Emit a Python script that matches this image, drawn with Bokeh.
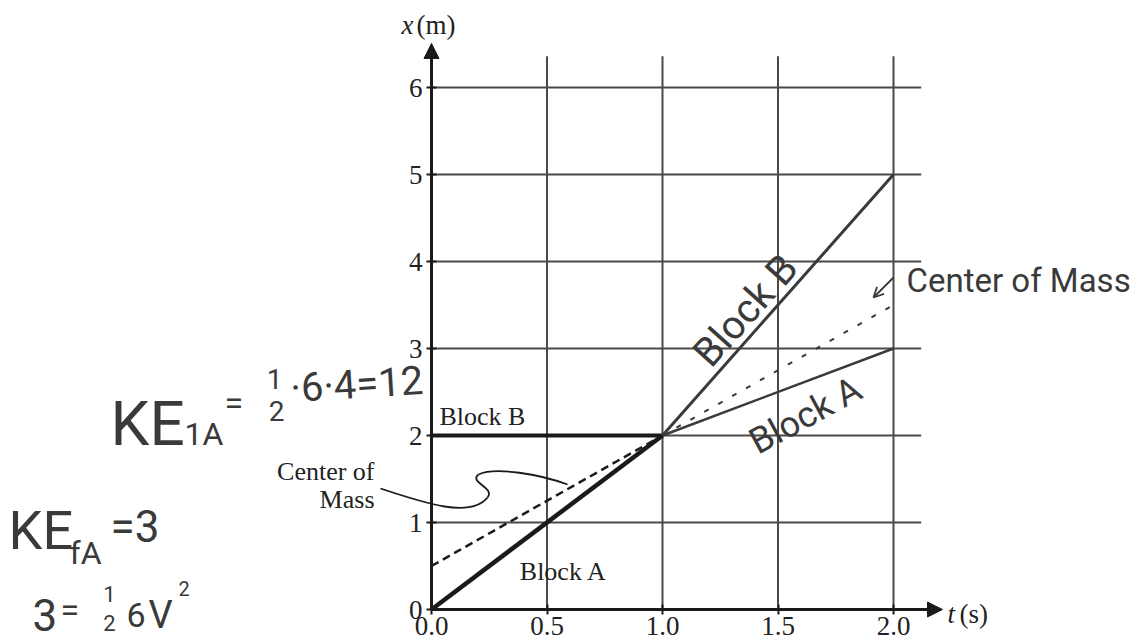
from bokeh.plotting import figure
from bokeh.models import LinearAxis, FixedTicker, Arrow, NormalHead, OpenHead
from bokeh.embed import file_html
from bokeh.resources import INLINE
from bokeh.core.properties import value

# ---------------- data ----------------
t_before = [0.0, 1.0]
blockA_before = [0.0, 2.0]
blockB_before = [2.0, 2.0]
cm_before = [0.5, 2.0]

t_after = [1.0, 2.0]
blockA_after = [2.0, 3.0]
blockB_after = [2.0, 5.0]
cm_after = [2.0, 3.5]

x_ticks = [0.0, 0.5, 1.0, 1.5, 2.0]
x_tick_labels = ["0.0", "0.5", "1.0", "1.5", "2.0"]
y_ticks = [0, 1, 2, 3, 4, 5, 6]
y_tick_labels = ["0", "1", "2", "3", "4", "5", "6"]

# ---------------- layout ----------------
W, H = 1134, 643
X0_PX, Y0_PX = 431, 609      # canvas pixel of origin (t=0, x=0)
PX_T, PX_X = 231.0, 87.0     # pixels per data unit

def d(xp, yp):
    """canvas pixel -> data coordinate (for annotation placement)"""
    return ((xp - X0_PX) / PX_T, (Y0_PX - yp) / PX_X)

x_start = -X0_PX / PX_T
x_end = (W - X0_PX) / PX_T
y_start = -(H - Y0_PX) / PX_X
y_end = Y0_PX / PX_X

p = figure(width=W, height=H, x_range=(x_start, x_end), y_range=(y_start, y_end),
           output_backend="svg", toolbar_location=None,
           x_axis_location=None, y_axis_location=None, min_border=0)
p.outline_line_color = None
p.background_fill_color = "white"
p.border_fill_color = "white"
p.grid.grid_line_color = None
p.grid.visible = False

INK = "#1a1a1a"
GRID = "#4a4a4a"
PEN = "#3a3a3a"
TXT = "#222222"
SERIF = value("Liberation Serif")
HAND = value("Roboto")

# grid lines from the tick arrays
grid_t_top = 6.36
grid_x_right = 2.12
vx = [t for t in x_ticks if t > 0]
p.segment(x0=vx, y0=[0] * len(vx), x1=vx, y1=[grid_t_top] * len(vx),
          line_color=GRID, line_width=2)
hy = [y for y in y_ticks if y > 0]
p.segment(x0=[0] * len(hy), y0=hy, x1=[grid_x_right] * len(hy), y1=hy,
          line_color=GRID, line_width=2)

# axes
xaxis = LinearAxis(fixed_location=0, bounds=(0, 2.15),
                   ticker=FixedTicker(ticks=x_ticks),
                   major_label_overrides={t: l for t, l in zip(x_ticks, x_tick_labels)})
yaxis = LinearAxis(fixed_location=0, bounds=(0, 6.4),
                   ticker=FixedTicker(ticks=y_ticks),
                   major_label_overrides={t: l for t, l in zip(y_ticks, y_tick_labels)})
for ax in (xaxis, yaxis):
    ax.axis_line_color = INK
    ax.axis_line_width = 3
    ax.major_tick_line_color = INK
    ax.major_tick_line_width = 2
    ax.major_tick_in = 5
    ax.major_tick_out = 5
    ax.minor_tick_line_color = None
    ax.major_label_text_font = "Liberation Serif"
    ax.major_label_text_font_size = "27px"
    ax.major_label_text_color = TXT
xaxis.major_label_standoff = 2
yaxis.major_label_standoff = 4
p.add_layout(xaxis, "below")
p.add_layout(yaxis, "left")

p.add_layout(Arrow(x_start=2.0, y_start=0, x_end=2.212, y_end=0, line_width=3,
                   line_color=INK,
                   end=NormalHead(size=15, fill_color=INK, line_color=INK)))
p.add_layout(Arrow(x_start=0, y_start=6.0, x_end=0, y_end=6.506, line_width=3,
                   line_color=INK,
                   end=NormalHead(size=15, fill_color=INK, line_color=INK)))

# axis titles
def serif(xp, yp, txt, size=26, align="left", baseline="middle", style="normal"):
    sx, sy = d(xp, yp)
    p.text(x=[sx], y=[sy], text=[txt], text_font=SERIF, text_font_style=style,
           text_font_size=f"{size}px", text_color=TXT, text_align=align,
           text_baseline=baseline)

serif(401, 24, "x", size=27, style="italic")
serif(416, 24, "(m)", size=27)
serif(947, 613, "t", size=27, style="italic")
serif(959, 613, "(s)", size=27)

# printed lines (before collision)
p.line(t_before, blockA_before, line_color=INK, line_width=4.5)
p.line(t_before, blockB_before, line_color=INK, line_width=4)
p.line(t_before, cm_before, line_color=INK, line_width=2.5, line_dash="8 5")

# hand-drawn lines (after collision)
p.line(t_after, blockA_after, line_color=PEN, line_width=2.5)
p.line(t_after, blockB_after, line_color=PEN, line_width=3)
p.line(t_after, cm_after, line_color=PEN, line_width=2, line_dash="5 11")

# printed labels
serif(439, 416, "Block B")
serif(563, 571, "Block A", align="center")
serif(374, 471, "Center of", align="right")
serif(374, 499, "Mass", align="right")

# leader curve for "Center of Mass"
segs = [((380, 488), (425, 503), (470, 518), (487, 497)),
        ((487, 497), (495, 487), (468, 482), (478, 474)),
        ((478, 474), (495, 466), (540, 474), (567, 484))]
bx0, by0, bx1, by1, cx0, cy0, cx1, cy1 = [], [], [], [], [], [], [], []
for s0, c0, c1, s1 in segs:
    a = d(*s0); b = d(*s1); c = d(*c0); e = d(*c1)
    bx0.append(a[0]); by0.append(a[1]); bx1.append(b[0]); by1.append(b[1])
    cx0.append(c[0]); cy0.append(c[1]); cx1.append(e[0]); cy1.append(e[1])
p.bezier(x0=bx0, y0=by0, x1=bx1, y1=by1, cx0=cx0, cy0=cy0, cx1=cx1, cy1=cy1,
         line_color=INK, line_width=1.8)

# handwritten notes
def hand(xp, yp, txt, size, align="left", baseline="alphabetic", angle=0.0):
    hx, hy_ = d(xp, yp)
    p.text(x=[hx], y=[hy_], text=[txt], text_font=HAND, text_font_size=f"{size}px",
           text_color=PEN, text_align=align, text_baseline=baseline, angle=angle)

hand(110, 423, "KE", 62)
hand(184, 433, "1A", 32)
hand(224, 402, "=", 34)
hand(274, 378, "1", 28, align="center")
hand(276, 410, "2", 28, align="center")
hand(290, 388, "·6·4=12", 40, angle=0.06)

hand(8, 530, "KE", 54)
hand(69, 552, "fA", 32)
hand(110, 526, "=3", 44)

hand(32, 614, "3", 44)
hand(60, 609, "=", 34)
hand(109, 593, "1", 22, align="center")
hand(109, 622, "2", 22, align="center")
hand(126, 614, "6", 34)
hand(148, 614, "V", 38)
hand(178, 588, "2", 20)

hand(745, 310, "Block B", 40, align="center", baseline="middle", angle=0.84)
hand(805, 415, "Block A", 36, align="center", baseline="middle", angle=0.5)
hand(906, 280, "Center of Mass", 33)

ax0, ay0 = d(893, 277)
ax1, ay1 = d(873, 297)
p.add_layout(Arrow(x_start=ax0, y_start=ay0, x_end=ax1, y_end=ay1, line_color=PEN,
                   line_width=1.8, end=OpenHead(size=10, line_color=PEN, line_width=1.8)))

open("out.html", "w").write(file_html(p, INLINE))
